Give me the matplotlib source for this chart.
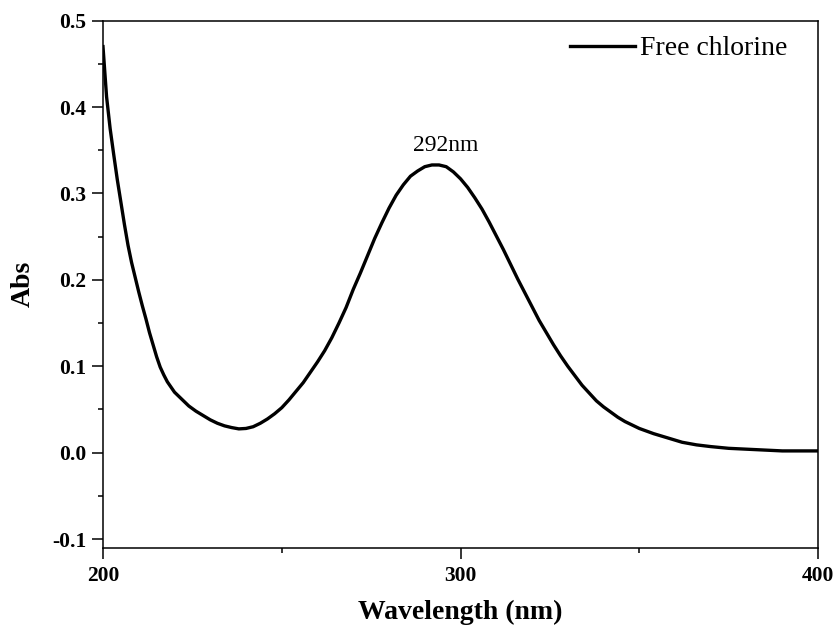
import matplotlib
matplotlib.use('Agg')
import matplotlib.pyplot as plt
from matplotlib.ticker import MultipleLocator

plt.rcParams['font.family'] = ['Liberation Serif', 'DejaVu Serif']
plt.rcParams['xtick.direction'] = 'out'
plt.rcParams['ytick.direction'] = 'out'

# UV-vis spectrum of free chlorine
wavelength = [200, 201, 202, 203, 204, 205, 206, 207, 208, 209, 210, 211, 212, 213, 214,
              215, 216, 217, 218, 219, 220, 222, 224, 226, 228, 230, 232, 234, 236, 238,
              240, 242, 244, 246, 248, 250, 252, 254, 256, 258, 260, 262, 264, 266, 268,
              270, 272, 274, 276, 278, 280, 282, 284, 286, 288, 290, 292, 294, 296, 298,
              300, 302, 304, 306, 308, 310, 312, 314, 316, 318, 320, 322, 324, 326, 328,
              330, 332, 334, 336, 338, 340, 342, 344, 346, 348, 350, 354, 358, 362, 366,
              370, 375, 380, 385, 390, 395, 400]
absorb = [0.470, 0.412, 0.375, 0.345, 0.316, 0.290, 0.264, 0.240, 0.220, 0.203, 0.186,
          0.170, 0.155, 0.139, 0.125, 0.111, 0.099, 0.090, 0.082, 0.076, 0.070, 0.062,
          0.054, 0.048, 0.043, 0.038, 0.034, 0.031, 0.029, 0.0275, 0.028, 0.030, 0.034,
          0.039, 0.045, 0.052, 0.061, 0.071, 0.081, 0.093, 0.105, 0.118, 0.133, 0.150,
          0.168, 0.189, 0.208, 0.228, 0.248, 0.266, 0.283, 0.298, 0.310, 0.320, 0.326,
          0.331, 0.333, 0.333, 0.331, 0.325, 0.317, 0.307, 0.295, 0.282, 0.267, 0.251,
          0.235, 0.218, 0.201, 0.185, 0.169, 0.153, 0.139, 0.125, 0.112, 0.100, 0.089,
          0.078, 0.069, 0.060, 0.053, 0.047, 0.041, 0.036, 0.032, 0.028, 0.022, 0.017,
          0.012, 0.009, 0.007, 0.005, 0.004, 0.003, 0.002, 0.002, 0.002]
series_name = 'Free chlorine'
peak_label = '292nm'

fig = plt.figure(figsize=(8.36, 6.29), dpi=100)
ax = fig.add_axes([0.1232, 0.1293, 0.8553, 0.8378])

ax.plot(wavelength, absorb, color='black', linewidth=2.4, label=series_name,
        solid_joinstyle='round')
ax.text(295.8, 0.349, peak_label, ha='center', va='baseline', fontsize=17)

ax.set_xlim(200, 400)
ax.set_ylim(-0.11, 0.5)
ax.xaxis.set_major_locator(MultipleLocator(100))
ax.xaxis.set_minor_locator(MultipleLocator(50))
ax.yaxis.set_major_locator(MultipleLocator(0.1))
ax.yaxis.set_minor_locator(MultipleLocator(0.05))
ax.yaxis.set_major_formatter(plt.FuncFormatter(lambda v, p: '%.1f' % v))

ax.tick_params(which='major', length=8, width=1.1, labelsize=15.5)
ax.tick_params(axis='x', which='major', pad=5)
ax.tick_params(axis='y', which='major', pad=4)
ax.tick_params(which='minor', length=3.8, width=1.1)
for lab in ax.get_xticklabels() + ax.get_yticklabels():
    lab.set_fontweight('bold')
for sp in ax.spines.values():
    sp.set_linewidth(1.1)

ax.set_xlabel('Wavelength (nm)', fontsize=20, fontweight='bold', labelpad=10)
ax.set_ylabel('Abs', fontsize=20, fontweight='bold', labelpad=12)

ax.legend(loc='center right', frameon=False, fontsize=20, handlelength=2.34,
          handletextpad=0.18, bbox_to_anchor=(0.973, 0.947), borderaxespad=0)

fig.savefig('out.png', dpi=100)
